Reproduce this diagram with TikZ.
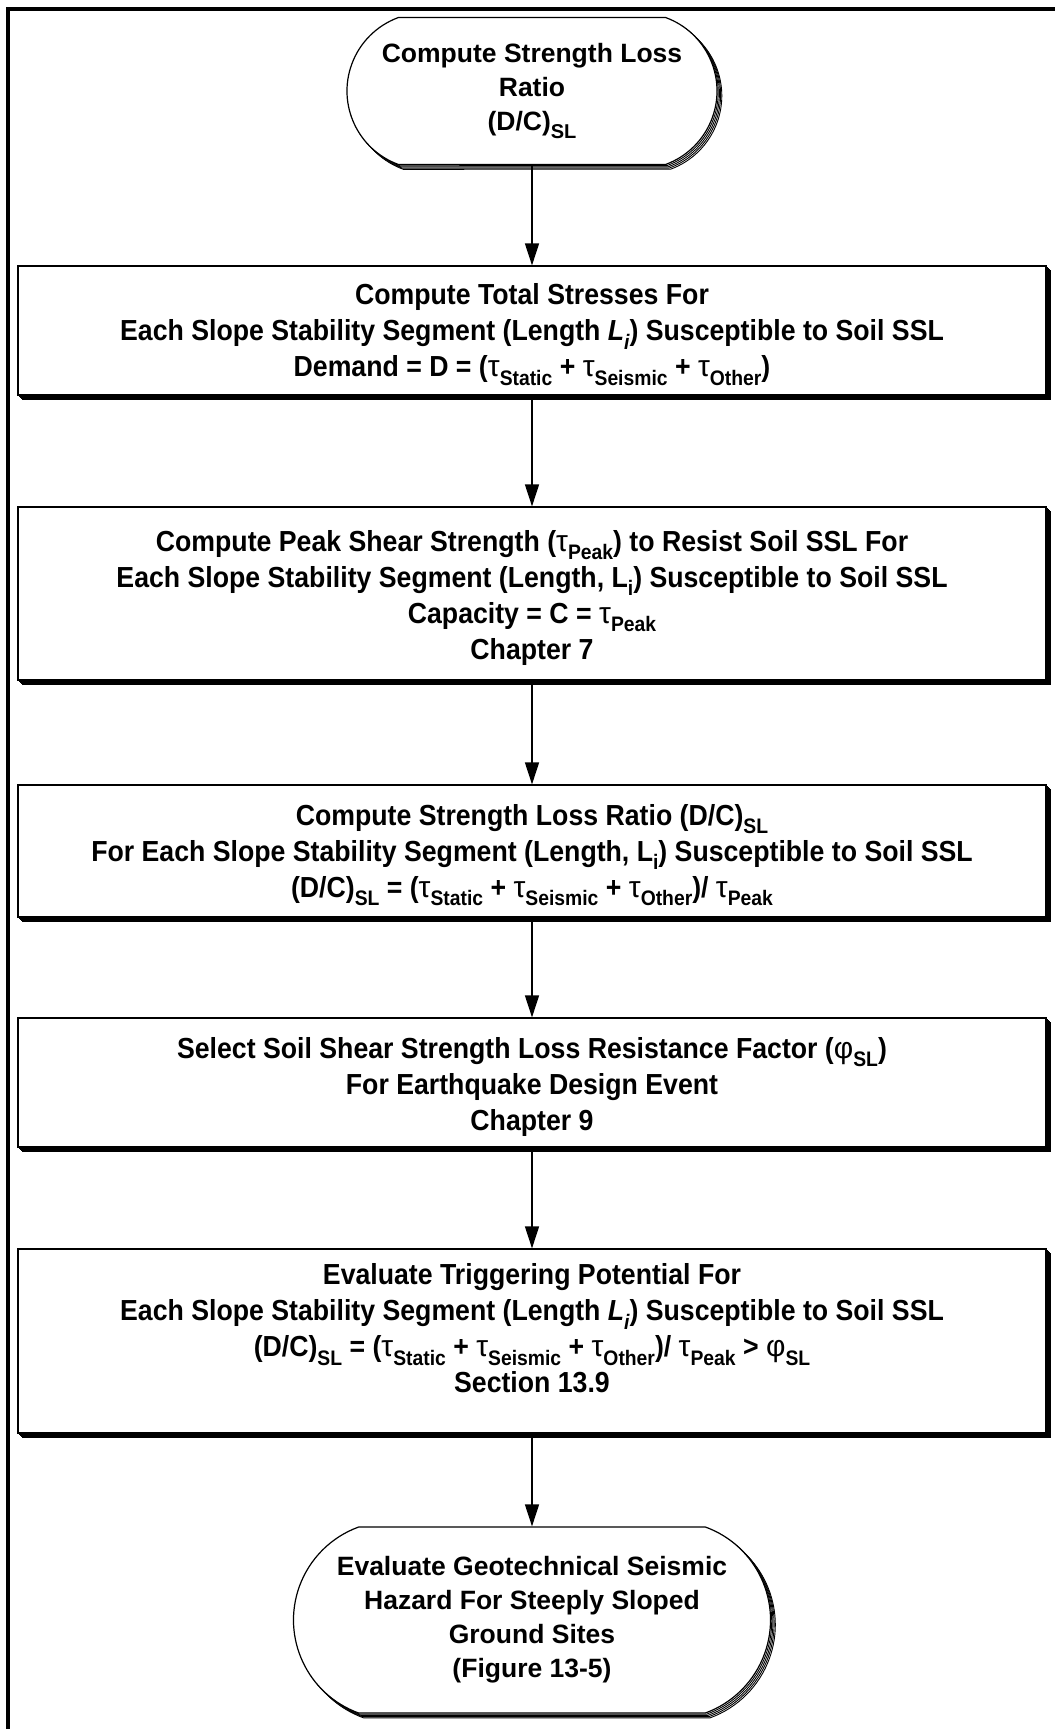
\documentclass[tikz,border=0pt]{standalone}
\usepackage{fontspec}
\setmainfont{Liberation Sans}
\newfontfamily\boxfont{Liberation Sans}[FakeStretch=0.92]
\usetikzlibrary{arrows.meta,shapes.misc,shadows}
\newcommand\sbx[1]{\raisebox{-0.3em}{\fontsize{21}{21}\selectfont #1}}
\newcommand\sbt[1]{\raisebox{-0.3em}{\fontsize{20}{20}\selectfont #1}}
\newcommand\tu{{\setmainfont{Liberation Sans}\mdseries\fontsize{30}{30}\selectfont τ}}
\newcommand\ph{{\setmainfont{Liberation Sans}\mdseries\fontsize{30}{30}\selectfont φ}}
\tikzset{
  stackshadow/.style={
    copy shadow={shadow xshift=4.8pt,shadow yshift=-4.8pt,line width=0.9pt,fill=white,draw=black},
    copy shadow={shadow xshift=3.6pt,shadow yshift=-3.6pt,line width=0.9pt,fill=white,draw=black},
    copy shadow={shadow xshift=2.4pt,shadow yshift=-2.4pt,line width=0.9pt,fill=white,draw=black},
    copy shadow={shadow xshift=1.2pt,shadow yshift=-1.2pt,line width=0.9pt,fill=white,draw=black}},
  stepbox/.style={rectangle,draw=black,line width=1.2pt,fill=white,inner sep=0pt,
    minimum width=1028pt,stackshadow},
  term/.style={rounded rectangle,rounded rectangle arc length=140,draw=black,line width=1.2pt,
    fill=white,inner sep=0pt,stackshadow},
  termtext/.style={align=center,inner sep=0pt,font=\fontsize{26.5}{34}\selectfont\bfseries},
  boxtext/.style={align=center,inner sep=0pt,font=\fontsize{29}{36}\selectfont\boxfont\bfseries},
  arr/.style={line width=1.3pt,-{Triangle[length=22pt,width=14pt]}}
}
\begin{document}
\begin{tikzpicture}[x=1pt,y=-1pt]
\useasboundingbox (0,0) rectangle (1055,1729);
\draw[line width=4pt] (8,1729) -- (8,9) -- (1055,9);

\node[term,minimum width=370pt,minimum height=147pt] (t1) at (532,91) {};
\node[termtext] (t1t) at (t1.center) {Compute Strength Loss\\Ratio\\(D/C)\sbt{SL}};

\node[stepbox,minimum height=129pt] (b1) at (532,330.5) {};
\node[boxtext] (b1t) at ([yshift=-4pt]b1.center) {Compute Total Stresses For\\
Each Slope Stability Segment (Length {\itshape L\sbx{i}}) Susceptible to Soil SSL\\
Demand = D = (\tu\sbx{Static} + \tu\sbx{Seismic} + \tu\sbx{Other})};

\node[stepbox,minimum height=173pt] (b2) at (532,593.5) {};
\node[boxtext] (b2t) at ([yshift=-4pt]b2.center) {Compute Peak Shear Strength (\tu\sbx{Peak}) to Resist Soil SSL For\\
Each Slope Stability Segment (Length, L\sbx{i}) Susceptible to Soil SSL\\
Capacity = C = \tu\sbx{Peak}\\
Chapter 7};

\node[stepbox,minimum height=132pt] (b3) at (532,851) {};
\node[boxtext] (b3t) at ([yshift=-4pt]b3.center) {Compute Strength Loss Ratio (D/C)\sbx{SL}\\
For Each Slope Stability Segment (Length, L\sbx{i}) Susceptible to Soil SSL\\
(D/C)\sbx{SL} = (\tu\sbx{Static} + \tu\sbx{Seismic} + \tu\sbx{Other})/ \tu\sbx{Peak}};

\node[stepbox,minimum height=129pt] (b4) at (532,1082.5) {};
\node[boxtext] (b4t) at ([yshift=-4pt]b4.center) {Select Soil Shear Strength Loss Resistance Factor (\ph\sbx{SL})\\
For Earthquake Design Event\\
Chapter 9};

\node[stepbox,minimum height=184pt] (b5) at (532,1341) {};
\node[boxtext] (b5t) at ([yshift=13pt]b5.center) {Evaluate Triggering Potential For\\
Each Slope Stability Segment (Length {\itshape L\sbx{i}}) Susceptible to Soil SSL\\
(D/C)\sbx{SL} = (\tu\sbx{Static} + \tu\sbx{Seismic} + \tu\sbx{Other})/ \tu\sbx{Peak} > \ph\sbx{SL}\\
Section 13.9};

\node[term,minimum width=477pt,minimum height=186pt] (t2) at (532,1620) {};
\node[termtext] (t2t) at (t2.center) {Evaluate Geotechnical Seismic\\Hazard For Steeply Sloped\\Ground Sites\\(Figure 13-5)};

\draw[arr] (t1) -- (b1);
\draw[arr] (b1) -- (b2);
\draw[arr] (b2) -- (b3);
\draw[arr] (b3) -- (b4);
\draw[arr] (b4) -- (b5);
\draw[arr] (b5) -- (t2);
\end{tikzpicture}
\end{document}
